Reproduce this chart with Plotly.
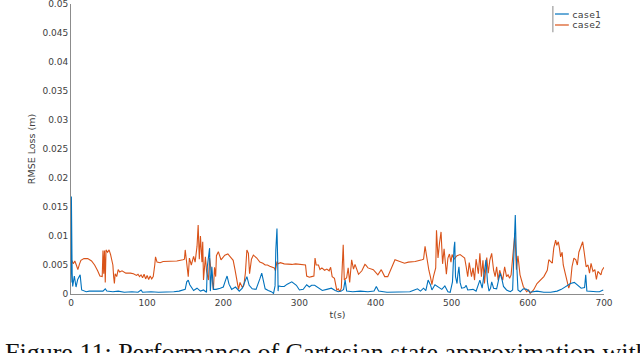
import plotly.graph_objects as go

# case1 (blue) - RMSE loss over time
case1_t = [0, 0.5, 1.5, 2.2, 4.4, 6.6, 8.8, 11, 12, 14, 17, 20, 24, 30, 36, 42, 45, 47, 55, 62, 70, 80, 88, 92,
           94, 105, 115, 125, 135, 142, 146, 150, 152, 154, 156, 158, 161, 165.5, 170, 174, 178, 179, 181, 182,
           183, 185, 187, 190.5, 196, 200, 203, 205, 207.5, 211, 216, 221, 225, 229, 231, 234, 238, 243, 246,
           248, 250.5, 253, 255, 259, 263, 266, 268, 269, 270.5, 271.5, 272, 272.5, 276, 280, 284, 290, 296,
           300, 305, 309.5, 313, 316, 320, 325, 330, 336, 342, 347, 351, 355, 358, 360, 362, 370, 380, 390,
           398, 401, 404, 415, 430, 445, 451, 455, 459, 463, 466, 469, 472, 474, 478, 482, 487, 491, 495, 498,
           501, 503, 504, 505, 507, 508, 509.5, 511, 513, 517, 519, 521, 524, 528, 532, 537, 540, 543, 545,
           547, 549, 551, 552.5, 555, 559, 561.5, 563.6, 566, 568, 572, 577, 580, 582, 583.5, 585, 587, 590,
           594, 598.5, 603, 612, 621, 630, 638.5, 644, 649.6, 656, 661, 665, 670, 674.5, 676, 677.5, 683, 690,
           694, 699]
case1_v = [0.0020, 0.0168, 0.0036, 0.0013, 0.0031, 0.0012, 0.0025, 0.0030, 0.0033, 0.0007, 0.0006, 0.0004,
           0.0005, 0.0005, 0.0004, 0.0005, 0.0009, 0.0005, 0.0004, 0.0005, 0.0003, 0.0004, 0.0003, 0.0007,
           0.0003, 0.0004, 0.0003, 0.0003, 0.0004, 0.0005, 0.0006, 0.0008, 0.0021, 0.0024, 0.0016, 0.0011,
           0.0006, 0.0010, 0.0005, 0.0007, 0.0003, 0.0047, 0.0076, 0.0079, 0.0005, 0.0047, 0.0008, 0.0008,
           0.0010, 0.0012, 0.0024, 0.0031, 0.0017, 0.0008, 0.0012, 0.0005, 0.0010, 0.0024, 0.0030, 0.0015,
           0.0009, 0.0008, 0.0017, 0.0026, 0.0036, 0.0020, 0.0009, 0.0006, 0.0004, 0.0001, 0.0014, 0.0076,
           0.0113, 0.0055, 0.0005, 0.0014, 0.0013, 0.0013, 0.0017, 0.0021, 0.0015, 0.0007, 0.0008, 0.0016,
           0.0012, 0.0015, 0.0015, 0.0010, 0.0006, 0.0008, 0.0010, 0.0006, 0.0004, 0.0005, 0.0008, 0.0024,
           0.0005, 0.0004, 0.0005, 0.0004, 0.0005, 0.0013, 0.0005, 0.0003, 0.0003, 0.0004, 0.0007, 0.0009,
           0.0005, 0.0010, 0.0006, 0.0024, 0.0016, 0.0007, 0.0016, 0.0012, 0.0008, 0.0014, 0.0004, 0.0003,
           0.0021, 0.0079, 0.0090, 0.0030, 0.0018, 0.0033, 0.0047, 0.0020, 0.0010, 0.0011, 0.0015, 0.0007,
           0.0007, 0.0008, 0.0005, 0.0024, 0.0010, 0.0041, 0.0059, 0.0020, 0.0005, 0.0010, 0.0021, 0.0010,
           0.0009, 0.0024, 0.0036, 0.0025, 0.0013, 0.0007, 0.0004, 0.0007, 0.0076, 0.0136, 0.0060, 0.0007,
           0.0004, 0.0009, 0.0008, 0.0003, 0.0005, 0.0003, 0.0003, 0.0005, 0.0008, 0.0013, 0.0018, 0.0020,
           0.0016, 0.0010, 0.0011, 0.0033, 0.0005, 0.0004, 0.0004, 0.0004, 0.0007]

# case2 (orange)
case2_t = [0, 1, 3, 5, 7, 9, 11, 13, 17, 22, 27, 31, 35, 38, 41, 42, 43, 44, 45, 46, 48, 50, 52, 54, 55, 56,
           57, 58, 60, 62, 64, 67, 72, 78, 82, 86, 88, 90, 92, 94, 96, 98, 100, 102, 104, 106, 108, 110, 111,
           113, 117, 121, 130, 139, 147, 149, 150, 152, 154, 155.5, 158, 161, 163, 165.5, 167, 168.5, 170, 172,
           173, 174, 176.5, 178, 180.5, 182, 184, 187, 188.5, 190, 191, 193.5, 197, 202, 206, 211, 213, 215.5,
           218, 220, 222, 225, 227, 229, 231, 233, 234.5, 237, 239.5, 241.5, 244, 248, 252, 255, 258, 261,
           264.5, 267, 268.5, 270.5, 272, 275, 280, 285, 290, 295, 300, 305, 308, 309.5, 313, 316, 319, 320.5,
           322, 325, 327, 329.5, 333, 336, 339, 341, 343, 346, 348, 349, 351, 353, 355, 357.5, 358.9, 362, 364,
           366, 368.6, 371, 373, 377.6, 382, 386, 387, 390, 397, 403, 407.5, 412, 416, 420, 425.5, 430, 434,
           438, 443, 452, 461, 463, 465, 467, 470, 472, 474, 476, 479, 480, 482, 484, 486, 488, 490, 493, 495,
           497, 499, 500.5, 503, 507, 511, 515, 517, 519, 521, 523, 524, 526, 528, 530, 532, 535, 537, 539,
           541, 543, 546, 548, 550, 552.5, 555, 557, 559, 561, 563, 565.5, 567, 569.5, 572, 574, 576, 578, 581,
           583, 585, 587, 589.7, 592, 594, 598.5, 601, 603, 607.5, 612, 616.5, 621, 625.5, 627.5, 630, 632,
           634, 636.5, 638, 640, 641.5, 643, 645, 646.5, 649, 651, 653.7, 656, 658, 660.5, 663, 665, 667,
           669.5, 672, 674, 676.5, 679, 681, 683, 685.5, 688, 690, 692, 694, 696, 697.5, 699, 700]
case2_v = [0.0045, 0.0058, 0.0052, 0.0057, 0.0050, 0.0042, 0.0051, 0.0058, 0.0061, 0.0061, 0.0057, 0.0050,
           0.0040, 0.0031, 0.0030, 0.0075, 0.0035, 0.0075, 0.0020, 0.0076, 0.0072, 0.0076, 0.0068, 0.0055,
           0.0050, 0.0030, 0.0018, 0.0035, 0.0030, 0.0042, 0.0038, 0.0040, 0.0036, 0.0036, 0.0035, 0.0032,
           0.0034, 0.0030, 0.0033, 0.0028, 0.0034, 0.0026, 0.0032, 0.0025, 0.0031, 0.0026, 0.0030, 0.0050,
           0.0064, 0.0055, 0.0054, 0.0056, 0.0056, 0.0057, 0.0059, 0.0060, 0.0076, 0.0050, 0.0030, 0.0062,
           0.0050, 0.0065, 0.0055, 0.0082, 0.0119, 0.0060, 0.0100, 0.0055, 0.0090, 0.0024, 0.0064, 0.0040,
           0.0024, 0.0062, 0.0035, 0.0007, 0.0046, 0.0030, 0.0066, 0.0073, 0.0059, 0.0067, 0.0069, 0.0061,
           0.0058, 0.0041, 0.0019, 0.0008, 0.0020, 0.0011, 0.0015, 0.0036, 0.0076, 0.0070, 0.0035, 0.0060,
           0.0067, 0.0065, 0.0062, 0.0055, 0.0053, 0.0050, 0.0050, 0.0048, 0.0046, 0.0045, 0.0040, 0.0056,
           0.0052, 0.0054, 0.0052, 0.0051, 0.0051, 0.0052, 0.0051, 0.0051, 0.0050, 0.0031, 0.0029, 0.0030,
           0.0031, 0.0062, 0.0050, 0.0050, 0.0042, 0.0045, 0.0041, 0.0043, 0.0040, 0.0046, 0.0030, 0.0027,
           0.0013, 0.0007, 0.0009, 0.0004, 0.0010, 0.0085, 0.0024, 0.0028, 0.0045, 0.0020, 0.0059, 0.0043,
           0.0051, 0.0034, 0.0040, 0.0051, 0.0050, 0.0045, 0.0042, 0.0033, 0.0042, 0.0030, 0.0030, 0.0042,
           0.0059, 0.0057, 0.0055, 0.0053, 0.0055, 0.0056, 0.0059, 0.0060, 0.0082, 0.0063, 0.0041, 0.0030,
           0.0016, 0.0030, 0.0045, 0.0110, 0.0062, 0.0088, 0.0107, 0.0052, 0.0078, 0.0034, 0.0062, 0.0069,
           0.0055, 0.0068, 0.0060, 0.0066, 0.0068, 0.0064, 0.0062, 0.0047, 0.0030, 0.0054, 0.0047, 0.0030,
           0.0045, 0.0024, 0.0060, 0.0035, 0.0070, 0.0030, 0.0058, 0.0018, 0.0063, 0.0036, 0.0058, 0.0070,
           0.0041, 0.0030, 0.0047, 0.0024, 0.0041, 0.0030, 0.0024, 0.0047, 0.0030, 0.0033, 0.0027, 0.0033,
           0.0079, 0.0105, 0.0042, 0.0066, 0.0033, 0.0020, 0.0013, 0.0004, 0.0007, 0.0001, 0.0007, 0.0018,
           0.0024, 0.0030, 0.0041, 0.0059, 0.0056, 0.0053, 0.0079, 0.0093, 0.0084, 0.0090, 0.0079, 0.0064,
           0.0072, 0.0050, 0.0036, 0.0025, 0.0010, 0.0020, 0.0047, 0.0062, 0.0059, 0.0050, 0.0072, 0.0081,
           0.0090, 0.0072, 0.0047, 0.0050, 0.0036, 0.0053, 0.0039, 0.0042, 0.0025, 0.0039, 0.0036, 0.0033,
           0.0041, 0.0044, 0.0046]

x_ticks = [0, 100, 200, 300, 400, 500, 600, 700]
y_ticks = [0, 0.005, 0.01, 0.015, 0.02, 0.025, 0.03, 0.035, 0.04, 0.045, 0.05]
y_ticktext = ["0", "0.005", "0.01", "0.015", "0.02", "0.025", "0.03", "0.035", "0.04", "0.045", "0.05"]

series_names = ["case1", "case2"]
caption = "Figure 11: Performance of Cartesian state approximation with"

BLUE = "#0072BD"
ORANGE = "#D95319"
AXIS = "#8c8c8c"
TEXT = "#404040"

fig = go.Figure()
# orange first so the blue spikes sit on top
fig.add_trace(go.Scatter(x=case2_t, y=case2_v, mode="lines", name=series_names[1],
                         line=dict(color=ORANGE, width=1.1), showlegend=False))
fig.add_trace(go.Scatter(x=case1_t, y=case1_v, mode="lines", name=series_names[0],
                         line=dict(color=BLUE, width=1.1), showlegend=False))

fig.update_layout(
    width=640, height=353,
    margin=dict(l=71, r=36, t=4, b=59, autoexpand=False),
    paper_bgcolor="white", plot_bgcolor="white",
    font=dict(family="DejaVu Sans", size=9, color=TEXT),
    showlegend=False,
)
fig.update_xaxes(range=[0, 700], tickvals=x_ticks, showgrid=False, zeroline=False, automargin=False,
                 showline=True, linecolor=AXIS, linewidth=1, ticks="", tickfont=dict(size=9),
                 title=dict(text="t(s)", font=dict(size=9.5, color=TEXT), standoff=4))
fig.update_yaxes(range=[0, 0.05], tickvals=y_ticks, ticktext=y_ticktext, showgrid=False, zeroline=False,
                 automargin=False, showline=True, linecolor=AXIS, linewidth=1, ticks="", tickfont=dict(size=9),
                 ticklabeloverflow="allow",
                 title=dict(text="RMSE Loss (m)", font=dict(size=9.5, color=TEXT), standoff=5))

# small MATLAB-style legend in the top right corner
fig.add_shape(type="line", xref="paper", yref="paper", x0=0.904, x1=0.904, y0=0.903, y1=0.993,
              line=dict(color="#b0b0b0", width=1.5))
for name, color, yy in [(series_names[0], BLUE, 0.9655), (series_names[1], ORANGE, 0.9276)]:
    fig.add_shape(type="line", xref="paper", yref="paper", x0=0.908, x1=0.934, y0=yy, y1=yy,
                  line=dict(color=color, width=1.2))
    fig.add_annotation(text=name, xref="paper", yref="paper", x=0.936, y=yy, xanchor="left",
                       yanchor="middle", showarrow=False,
                       font=dict(family="DejaVu Sans Mono", size=9.5, color=TEXT))

fig.add_annotation(text=caption, xref="paper", yref="paper", x=0, y=-0.202, xshift=-68,
                   xanchor="left", yanchor="middle", showarrow=False,
                   font=dict(family="Liberation Serif", size=26, color="#111111"))

# page body has a default 8px margin; drop it so the figure sits at the window corner
fig.write_html("out.html", config={"displayModeBar": False},
               post_script="document.body.style.margin='0';")
